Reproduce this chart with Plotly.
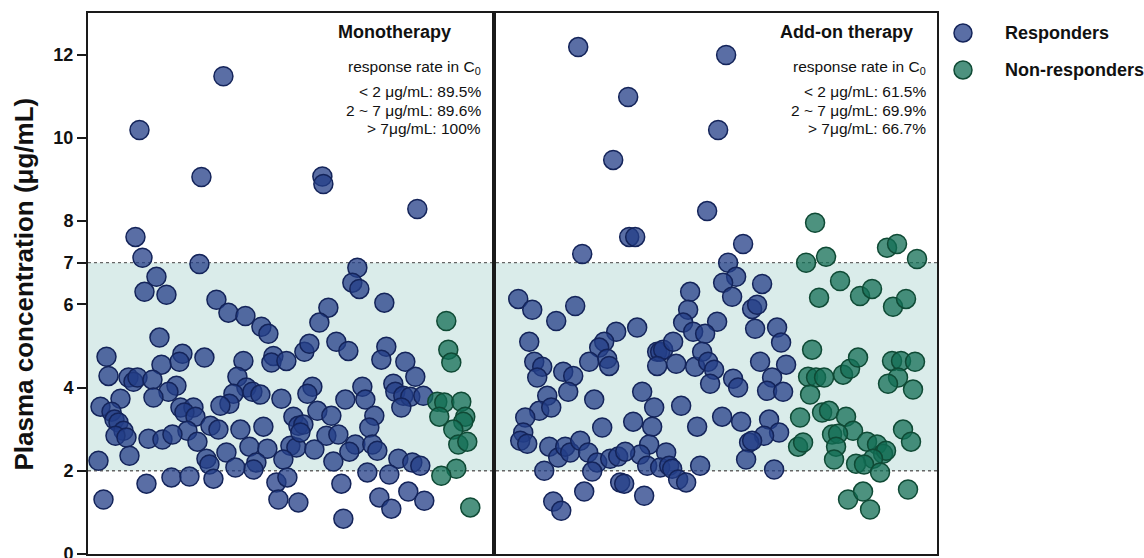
import plotly.graph_objects as go

# ---------------- data (jitter position, concentration µg/mL) ----------------
mono_resp_x = [223,139,201,322,323,417,135,142,199,357,156,352,359,144,166,384,216,228,245,261,268,328,319,159,106,182,179,161,204,243,273,271,286,304,309,336,348,386,381,405,415,108,128,133,137,152,237,176,168,246,252,260,233,229,220,281,120,153,100,111,180,193,184,195,114,118,293,210,218,240,263,298,123,187,115,126,148,162,172,197,249,267,290,296,129,226,206,209,283,256,253,235,98,171,189,213,146,276,287,103,278,298,312,307,362,365,345,393,395,403,410,423,401,317,331,374,369,303,300,326,338,355,349,372,377,314,333,398,412,420,341,367,389,379,391,408,424,343]
mono_resp_y = [11.48,10.19,9.06,9.07,8.89,8.29,7.62,7.12,6.97,6.88,6.66,6.52,6.37,6.30,6.23,6.04,6.11,5.80,5.72,5.46,5.29,5.92,5.56,5.20,4.74,4.81,4.62,4.55,4.72,4.64,4.76,4.60,4.64,4.86,5.05,5.10,4.88,4.98,4.67,4.62,4.26,4.28,4.24,4.14,4.24,4.19,4.26,4.04,3.90,4.00,3.90,3.83,3.85,3.61,3.56,3.73,3.73,3.76,3.54,3.42,3.52,3.52,3.40,3.30,3.23,3.16,3.30,3.08,2.99,2.99,3.06,3.08,2.96,2.96,2.84,2.80,2.77,2.75,2.87,2.70,2.58,2.53,2.60,2.56,2.36,2.44,2.29,2.15,2.27,2.20,2.03,2.08,2.24,1.84,1.86,1.81,1.69,1.72,1.84,1.31,1.31,1.24,4.02,3.85,4.02,3.71,3.71,4.09,3.90,3.80,3.78,3.80,3.52,3.44,3.32,3.32,3.04,3.11,2.92,2.84,2.87,2.63,2.46,2.63,2.48,2.51,2.22,2.29,2.20,2.12,1.69,1.96,1.91,1.36,1.09,1.50,1.28,0.85]

mono_non_x = [446,448,451,437,444,461,439,465,463,453,458,467,456,441,470]
mono_non_y = [5.60,4.91,4.60,3.66,3.64,3.66,3.30,3.30,3.18,2.99,2.63,2.70,2.05,1.88,1.12]

add_resp_x = [578,628,613,707,629,635,582,726,718,743,728,736,723,732,762,717,752,757,755,777,781,760,786,733,738,772,767,783,722,741,769,779,764,749,752,746,774,
              690,688,683,693,705,518,532,575,556,616,637,529,604,599,607,609,589,534,542,537,563,573,568,547,539,551,525,523,520,527,594,602,633,642,654,652,649,640,647,666,660,669,672,678,686,700,697,681,657,660,663,673,657,676,695,702,708,714,710,549,558,565,570,580,588,597,592,610,618,625,544,584,620,624,644,553,561]
add_resp_y = [12.18,10.98,9.47,8.24,7.62,7.62,7.21,11.99,10.19,7.45,7.00,6.66,6.52,6.18,6.49,5.58,5.89,5.99,5.41,5.44,5.08,4.62,4.55,4.21,4.00,4.24,3.92,3.90,3.30,3.18,3.23,2.92,2.84,2.68,2.72,2.27,2.03,
              6.30,5.87,5.56,5.34,5.29,6.13,5.87,5.96,5.60,5.34,5.44,5.10,5.10,4.96,4.69,4.52,4.62,4.62,4.50,4.24,4.38,4.28,3.90,3.80,3.44,3.52,3.28,2.92,2.72,2.65,3.71,3.04,3.18,3.90,3.52,3.06,2.63,2.39,2.12,2.44,2.08,2.12,2.05,1.79,1.72,2.12,3.06,3.56,4.86,4.86,4.91,5.10,4.52,4.57,4.50,4.86,4.62,4.43,4.09,2.58,2.32,2.58,2.44,2.72,2.44,2.20,1.98,2.29,2.34,2.46,2.00,1.50,1.72,1.69,1.40,1.26,1.04]

add_non_x = [815,887,897,917,826,806,840,819,860,872,893,906,812,808,816,824,810,843,850,858,892,901,915,898,888,913,800,822,829,846,853,832,838,836,834,798,803,867,877,883,886,873,856,864,880,903,911,848,863,870,908]
add_non_y = [7.96,7.36,7.45,7.09,7.14,7.00,6.56,6.16,6.20,6.37,5.94,6.13,4.91,4.26,4.24,4.24,3.83,4.31,4.45,4.72,4.64,4.64,4.62,4.24,4.09,3.95,3.28,3.40,3.44,3.30,2.96,2.87,2.89,2.58,2.27,2.58,2.68,2.70,2.63,2.41,2.48,2.29,2.17,2.15,1.96,2.99,2.70,1.31,1.50,1.07,1.55]

y_ticks = [0, 2, 4, 6, 7, 8, 10, 12]
panel_titles = ["Monotherapy", "Add-on therapy"]
rate_labels = ["&lt; 2 μg/mL", "2 ~ 7 μg/mL", "&gt; 7μg/mL"]
mono_rates = ["89.5%", "89.6%", "100%"]
add_rates = ["61.5%", "69.9%", "66.7%"]
legend_names = ["Responders", "Non-responders"]

# ---------------- style ----------------
FONT = "Arial, Liberation Sans, sans-serif"
BLUE_FILL = "rgba(35,62,135,0.75)"
BLUE_LINE = "#14245a"
GREEN_FILL = "rgba(18,110,84,0.75)"
GREEN_LINE = "#0f4a35"
BAND = "#daecea"
AXC = "#1a1a1a"

L, R, T, B = 87.5, 937.0, 13.0, 554.0
DIV = 493.7
W, H = 1144, 558
pw, ph = R - L, B - T


def px(xp):
    return (xp - L) / pw


def py(yp):
    return (B - yp) / ph


def marker(fill, line):
    return dict(size=19, color=fill, line=dict(color=line, width=1.5))


fig = go.Figure()
fig.add_trace(go.Scatter(x=mono_resp_x, y=mono_resp_y, mode="markers", xaxis="x", yaxis="y",
                         marker=marker(BLUE_FILL, BLUE_LINE), showlegend=False, cliponaxis=False))
fig.add_trace(go.Scatter(x=mono_non_x, y=mono_non_y, mode="markers", xaxis="x", yaxis="y",
                         marker=marker(GREEN_FILL, GREEN_LINE), showlegend=False, cliponaxis=False))
fig.add_trace(go.Scatter(x=add_resp_x, y=add_resp_y, mode="markers", xaxis="x2", yaxis="y2",
                         marker=marker(BLUE_FILL, BLUE_LINE), showlegend=False, cliponaxis=False))
fig.add_trace(go.Scatter(x=add_non_x, y=add_non_y, mode="markers", xaxis="x2", yaxis="y2",
                         marker=marker(GREEN_FILL, GREEN_LINE), showlegend=False, cliponaxis=False))

d = px(DIV)
xcommon = dict(showticklabels=False, ticks="", showgrid=False, zeroline=False, automargin=False,
               showline=True, mirror=True, linecolor=AXC, linewidth=2)
fig.update_layout(
    width=W, height=H,
    margin=dict(l=L, r=W - R, t=T, b=H - B, pad=0, autoexpand=False),
    plot_bgcolor="white", paper_bgcolor="white",
    font=dict(family=FONT, color="#111"),
    showlegend=False,
    xaxis=dict(domain=[0, d], range=[L, DIV], anchor="y", **xcommon),
    xaxis2=dict(domain=[d, 1], range=[DIV, R], anchor="y2", **xcommon),
    yaxis=dict(range=[0, 13], anchor="x", tickvals=y_ticks, ticktext=[str(v) for v in y_ticks],
               ticks="outside", ticklen=9, tickwidth=2, tickcolor=AXC,
               ticklabeloverflow="allow", automargin=False,
               tickfont=dict(size=18, weight="bold", family=FONT, color="#111"),
               showgrid=False, zeroline=False, showline=True, mirror=True,
               linecolor=AXC, linewidth=2),
    yaxis2=dict(range=[0, 13], anchor="x2", matches="y", showticklabels=False, ticks="",
                automargin=False,
                showgrid=False, zeroline=False, showline=True, mirror=True,
                linecolor=AXC, linewidth=2),
)

# band and dotted reference lines
fig.add_shape(type="rect", xref="paper", yref="y", x0=0, x1=1, y0=2, y1=7,
              fillcolor=BAND, line=dict(width=0), layer="below")
for yv in (2, 7):
    fig.add_shape(type="line", xref="paper", yref="y", x0=0, x1=1, y0=yv, y1=yv,
                  line=dict(color="#666", width=1.3, dash="dot"), layer="below")

ann = []
# y axis title
ann.append(dict(text="<b>Plasma concentration (μg/mL)</b>", xref="paper", yref="paper",
                x=px(23), y=py(284), textangle=-90, showarrow=False,
                font=dict(size=26, family=FONT, color="#111"), xanchor="center", yanchor="middle"))

# panel texts
for title, rates, tx, rx in ((panel_titles[0], mono_rates, 453, 483),
                             (panel_titles[1], add_rates, 915, 928)):
    ann.append(dict(text=f"<b>{title}</b>", xref="paper", yref="paper", x=px(tx), y=py(32),
                    xanchor="right", yanchor="middle", showarrow=False,
                    font=dict(size=18, family=FONT, color="#111")))
    ann.append(dict(text="response rate in C<sub>0</sub>", xref="paper", yref="paper",
                    x=px(rx), y=py(68), xanchor="right", yanchor="middle", showarrow=False,
                    font=dict(size=15.5, family=FONT, color="#111")))
    for lab, r, yy in zip(rate_labels, rates, (91, 110, 128)):
        ann.append(dict(text=f"{lab}: {r}", xref="paper", yref="paper",
                        x=px(rx), y=py(yy), xanchor="right", yanchor="middle", showarrow=False,
                        font=dict(size=15.5, family=FONT, color="#111")))

# legend (drawn manually)
for name, fill, line, yy in ((legend_names[0], BLUE_FILL, BLUE_LINE, 33),
                             (legend_names[1], GREEN_FILL, GREEN_LINE, 70)):
    fig.add_shape(type="circle", xref="paper", yref="paper", xsizemode="pixel", ysizemode="pixel",
                  xanchor=px(963), yanchor=py(yy), x0=-9, x1=9, y0=-9, y1=9,
                  fillcolor=fill, line=dict(color=line, width=1.5))
    ann.append(dict(text=f"<b>{name}</b>", xref="paper", yref="paper", x=px(1003), y=py(yy),
                    xanchor="left", yanchor="middle", showarrow=False,
                    font=dict(size=18, family=FONT, color="#111")))

fig.update_layout(annotations=ann)
fig.write_html("out.html")
